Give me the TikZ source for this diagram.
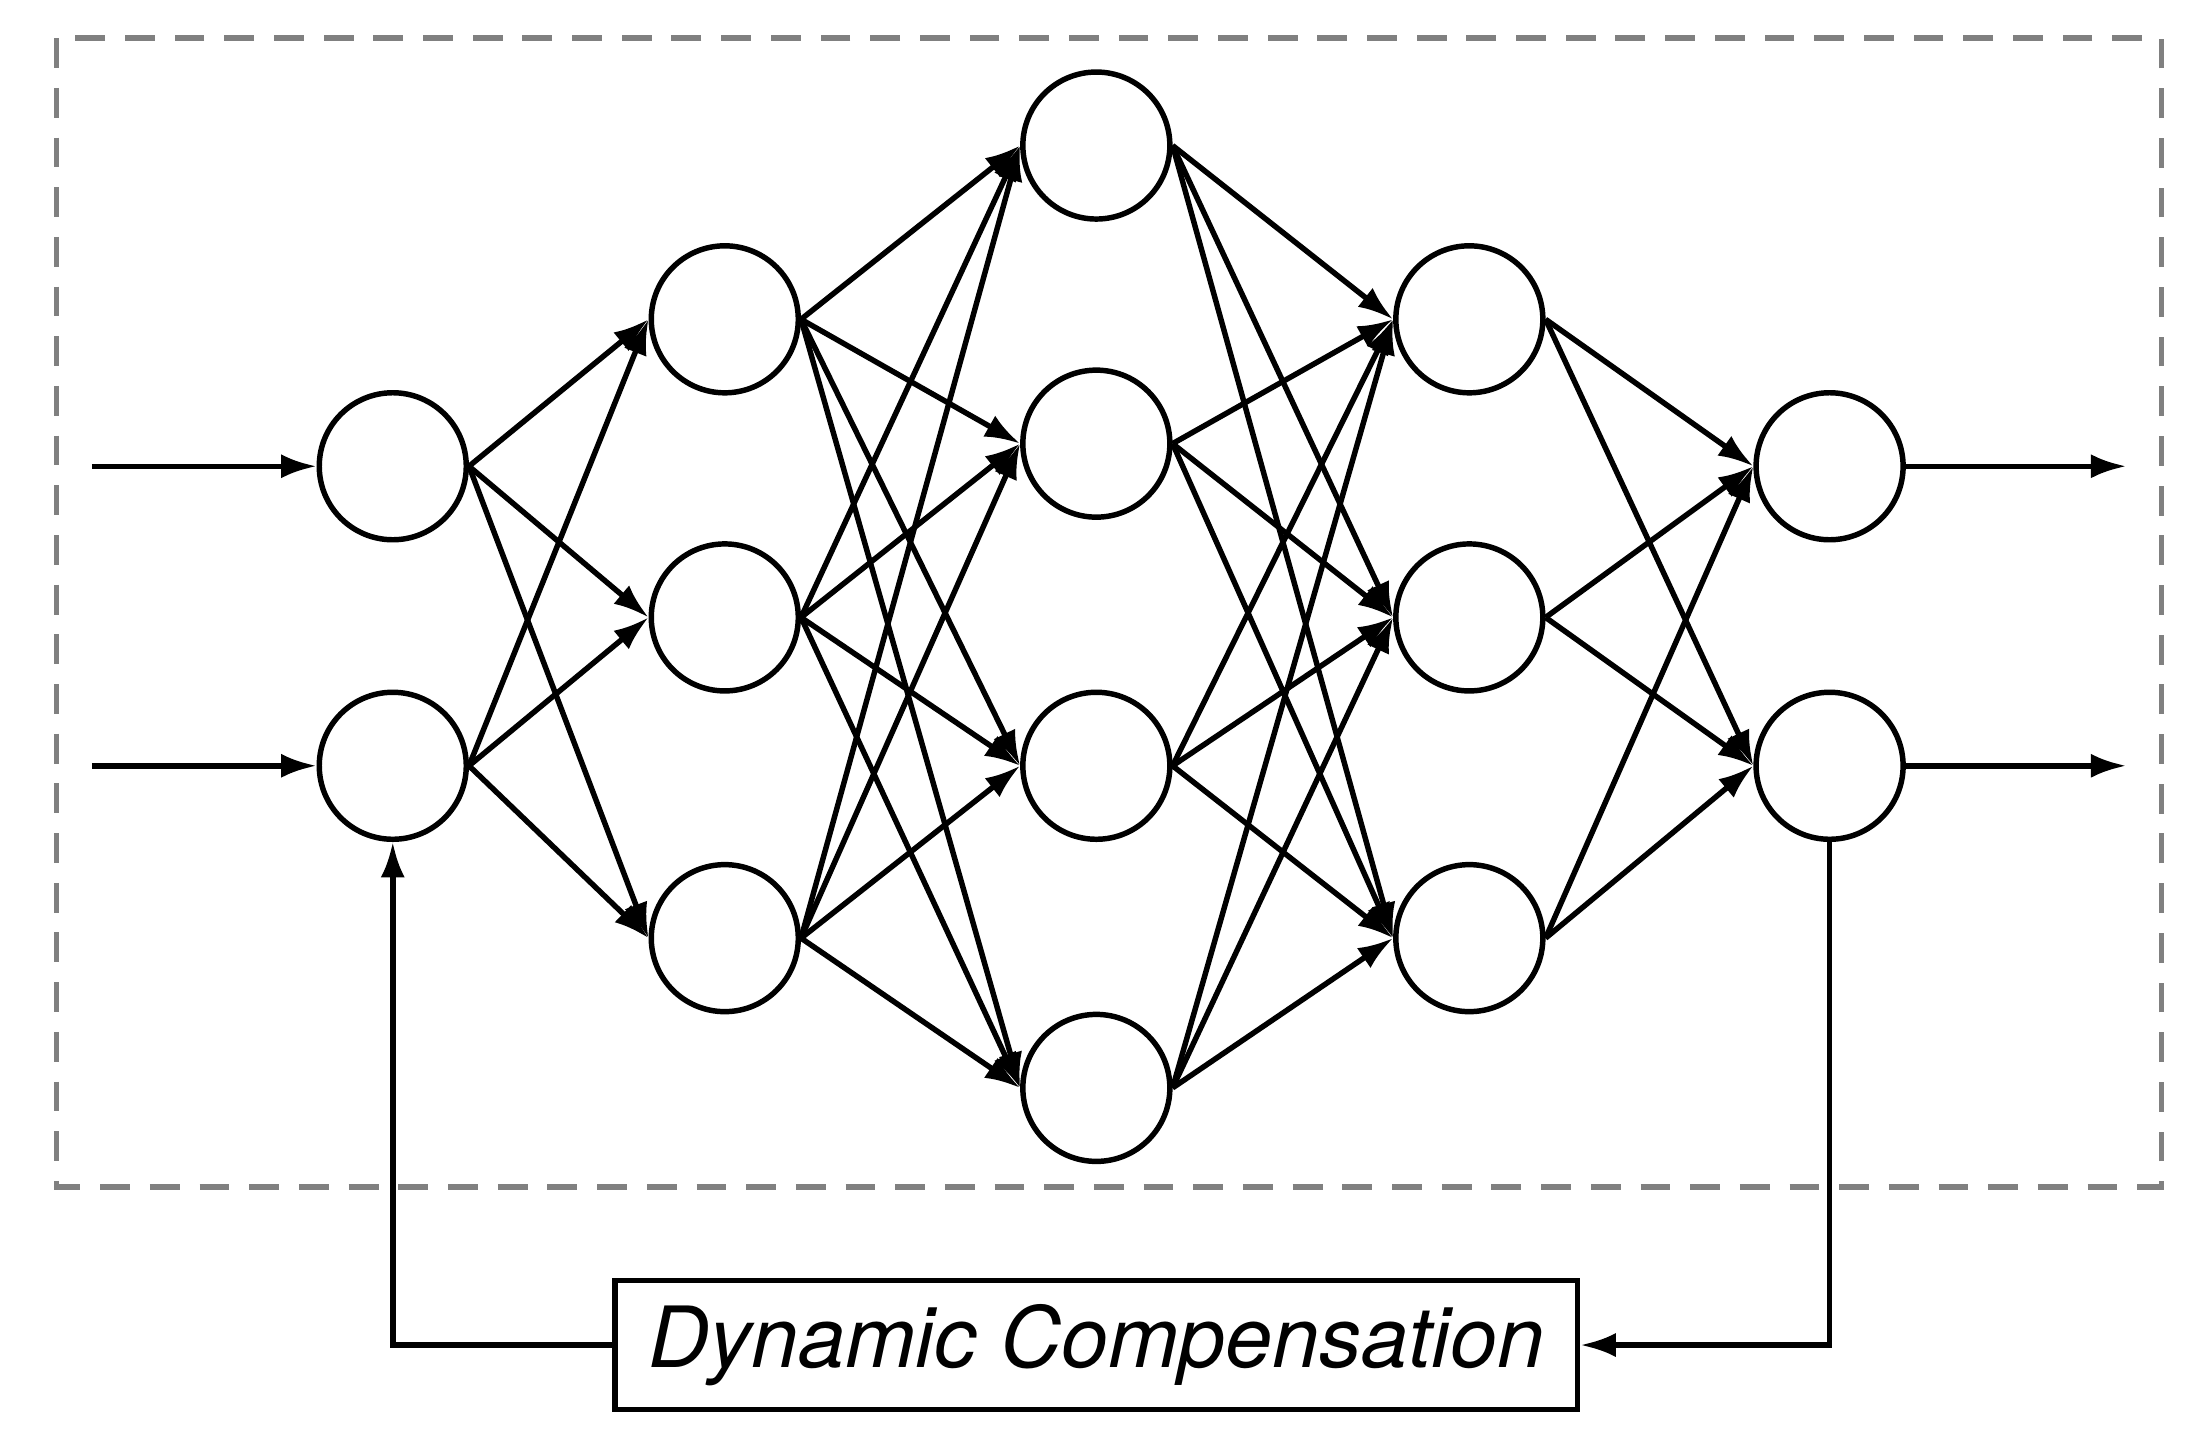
\documentclass[tikz,border=0pt]{standalone}
\usepackage{fontspec}
\setmainfont{TeX Gyre Heros}
\usetikzlibrary{arrows.meta}
\begin{document}
\begin{tikzpicture}[x=0.01cm,y=-0.01cm,
  neu/.style={circle,draw,line width=1.1pt,minimum size=1.04cm,inner sep=0pt},
  con/.style={line width=1.1pt,-{Latex[length=0.25cm,width=0.17cm]}}]
\useasboundingbox (0,0) rectangle (1560,1020);
\draw[gray,dashed,line width=1.1pt,dash pattern=on 6pt off 4pt] (40,27) rectangle (1530,840);
\foreach \y [count=\i] in {330,542} \node[neu] (a\i) at (278,\y) {};
\foreach \y [count=\i] in {226,437,664} \node[neu] (b\i) at (513,\y) {};
\foreach \y [count=\i] in {103,314,542,770} \node[neu] (c\i) at (776,\y) {};
\foreach \y [count=\i] in {226,437,664} \node[neu] (d\i) at (1040,\y) {};
\foreach \y [count=\i] in {330,542} \node[neu] (e\i) at (1295,\y) {};
\foreach \i in {1,2} \foreach \j in {1,2,3} \draw[con] (a\i.east) -- (b\j.west);
\foreach \i in {1,2,3} \foreach \j in {1,2,3,4} \draw[con] (b\i.east) -- (c\j.west);
\foreach \i in {1,2,3,4} \foreach \j in {1,2,3} \draw[con] (c\i.east) -- (d\j.west);
\foreach \i in {1,2,3} \foreach \j in {1,2} \draw[con] (d\i.east) -- (e\j.west);
\coordinate (i1) at (65,330); \coordinate (i2) at (65,542);
\coordinate (o1) at (1505,330); \coordinate (o2) at (1505,542);
\draw[con] (i1) -- (a1); \draw[con] (i2) -- (a2);
\draw[con] (e1) -- (o1); \draw[con] (e2) -- (o2);
\node[draw,line width=1.1pt,minimum width=6.81cm,minimum height=0.91cm,inner sep=0pt,font=\fontsize{17}{20}\selectfont\itshape] (dc) at (776,952) {Dynamic Compensation};
\draw[con] (e2.south) |- (dc.east);
\draw[con] (dc.west) -| (a2.south);
\end{tikzpicture}
\end{document}
